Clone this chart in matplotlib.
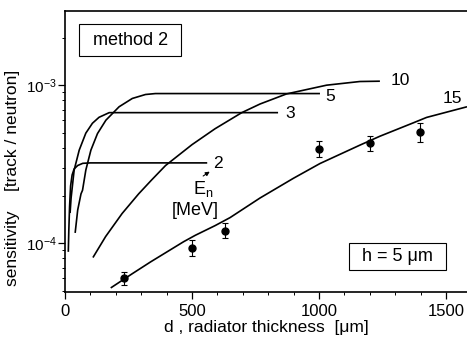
#!/usr/bin/env python3.12
"""Radiator sensitivity vs thickness, method 2 (scanned figure redraw)."""

import matplotlib
matplotlib.use("Agg")
import matplotlib.pyplot as plt
from matplotlib.patches import Rectangle
from matplotlib.ticker import LogLocator, MultipleLocator, NullFormatter, FixedLocator

# calculated curves, labelled by neutron energy En [MeV]
d_2 = [13, 15, 18, 22, 28, 36, 50, 70, 100, 560]
s_2 = [8.8e-5, 1.2e-4, 1.7e-4, 2.3e-4, 2.7e-4, 2.95e-4, 3.1e-4, 3.2e-4, 3.22e-4, 3.22e-4]

d_3 = [20, 24, 36, 56, 82, 108, 134, 174, 839]
s_3 = [1.55e-4, 1.93e-4, 2.9e-4, 3.88e-4, 4.97e-4, 5.74e-4, 6.26e-4, 6.7e-4, 6.7e-4]

d_5 = [40, 50, 63, 69, 82, 102, 128, 161, 213, 265, 317, 356, 1004]
s_5 = [1.16e-4, 1.62e-4, 2.05e-4, 2.16e-4, 2.9e-4, 3.88e-4, 4.94e-4, 6.0e-4,
       7.3e-4, 8.24e-4, 8.73e-4, 8.85e-4, 8.85e-4]

d_10 = [110, 160, 225, 290, 340, 396, 500, 591, 696, 768, 872, 1030, 1161, 1240]
s_10 = [8.1e-5, 1.1e-4, 1.54e-4, 2.05e-4, 2.5e-4, 3.1e-4, 4.2e-4, 5.3e-4,
        6.7e-4, 7.6e-4, 8.8e-4, 1.0e-3, 1.055e-3, 1.06e-3]

d_15 = [180, 265, 337, 467, 513, 591, 650, 768, 899, 1004, 1161, 1240, 1371, 1424, 1583]
s_15 = [5.2e-5, 6.4e-5, 7.6e-5, 1.02e-4, 1.12e-4, 1.29e-4, 1.45e-4, 1.93e-4,
        2.57e-4, 3.19e-4, 4.17e-4, 4.75e-4, 5.77e-4, 6.25e-4, 7.3e-4]

# measured points
meas_d = [232, 500, 631, 1000, 1201, 1397]
meas_s = [5.98e-5, 9.34e-5, 1.2e-4, 3.93e-4, 4.28e-4, 5.06e-4]
meas_lo = [5.42e-5, 8.27e-5, 1.08e-4, 3.51e-4, 3.82e-4, 4.37e-4]
meas_hi = [6.58e-5, 1.045e-4, 1.35e-4, 4.43e-4, 4.75e-4, 5.73e-4]


def main() -> None:
    plt.rcParams["font.family"] = ["Liberation Sans", "DejaVu Sans"]
    plt.rcParams["mathtext.fontset"] = "custom"
    plt.rcParams["mathtext.rm"] = "Liberation Sans"
    plt.rcParams["mathtext.it"] = "Liberation Sans"

    fig = plt.figure(figsize=(4.67, 3.39), dpi=100)
    ax = fig.add_axes([65 / 467, 47 / 339, 402 / 467, 281 / 339])

    lw = 1.2
    for d, s in [(d_2, s_2), (d_3, s_3), (d_5, s_5), (d_10, s_10), (d_15, s_15)]:
        ax.plot(d, s, color="black", lw=lw, solid_capstyle="butt")

    yerr = [[m - lo for m, lo in zip(meas_s, meas_lo)],
            [hi - m for m, hi in zip(meas_s, meas_hi)]]
    ax.errorbar(meas_d, meas_s, yerr=yerr, fmt="o", color="black", ms=5,
                elinewidth=0.8, capsize=2, capthick=0.8)

    ax.set_yscale("log")
    ax.set_xlim(0, 1583)
    ax.set_ylim(4.9e-5, 2.95e-3)

    ax.xaxis.set_major_locator(FixedLocator([0, 500, 1000, 1500]))
    ax.xaxis.set_minor_locator(MultipleLocator(100))
    ax.yaxis.set_major_locator(FixedLocator([1e-4, 1e-3]))
    ax.yaxis.set_minor_locator(LogLocator(base=10, subs=range(2, 10)))
    ax.yaxis.set_minor_formatter(NullFormatter())
    ax.set_yticklabels(["$10^{-4}$", "$10^{-3}$"])
    ax.tick_params(which="major", direction="out", length=5, width=0.9,
                   labelsize=12)
    ax.tick_params(which="minor", direction="out", length=2.5, width=0.7)
    ax.tick_params(axis="y", pad=1, labelsize=11)

    ax.spines["right"].set_visible(False)
    for side in ("left", "bottom", "top"):
        ax.spines[side].set_linewidth(1.2)

    ax.set_xlabel("d , radiator thickness  [μm]", fontsize=12.5, labelpad=1)
    ax.set_ylabel("sensitivity    [track / neutron]", fontsize=12.5)
    ax.yaxis.set_label_coords(-0.112, 0.406)

    # curve labels
    ax.text(583, 3.2e-4, "2", fontsize=12.5, ha="left", va="center")
    ax.text(886, 6.65e-4, "3", fontsize=12.5, ha="center", va="center")
    ax.text(1043, 8.5e-4, "5", fontsize=12.5, ha="center", va="center")
    ax.text(1319, 1.077e-3, "10", fontsize=12.5, ha="center", va="center")
    ax.text(1524, 8.28e-4, "15", fontsize=12.5, ha="center", va="center")

    ax.text(543, 2.2e-4, "$\\mathregular{E_n}$", fontsize=13, ha="center",
            va="center")
    ax.text(512, 1.62e-4, "[MeV]", fontsize=13, ha="center", va="center")
    ax.annotate("", xy=(579, 2.9e-4), xytext=(535, 2.6e-4),
                arrowprops=dict(arrowstyle="-|>", color="black", lw=0.8,
                                mutation_scale=6))

    # framed notes
    ax.add_patch(Rectangle((0.035, 0.840), 0.254, 0.114, transform=ax.transAxes,
                           facecolor="white", edgecolor="black", lw=0.8))
    ax.text(0.162, 0.895, "method 2", transform=ax.transAxes, fontsize=13,
            ha="center", va="center")
    ax.add_patch(Rectangle((0.706, 0.078), 0.242, 0.096, transform=ax.transAxes,
                           facecolor="white", edgecolor="black", lw=0.8))
    ax.text(0.827, 0.125, "h = 5 μm", transform=ax.transAxes, fontsize=13,
            ha="center", va="center")

    fig.savefig("out.png", dpi=100)


if __name__ == "__main__":
    main()
